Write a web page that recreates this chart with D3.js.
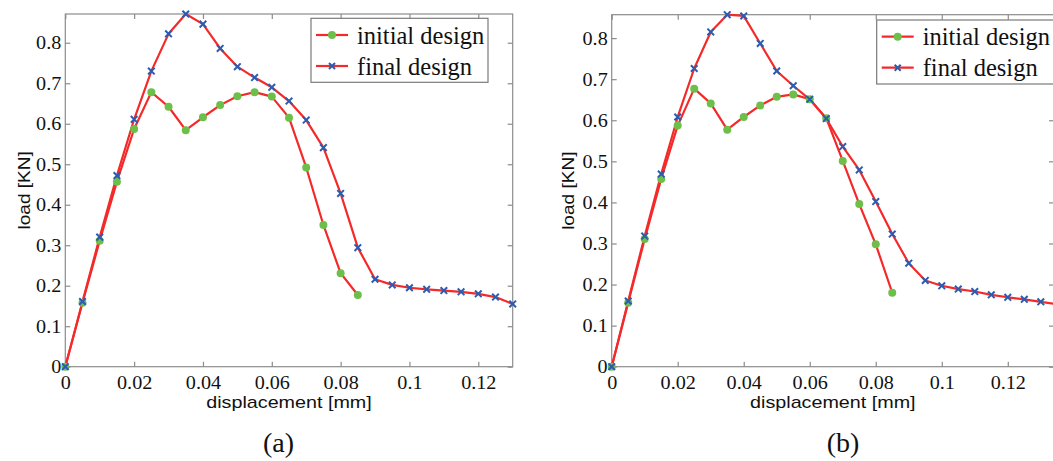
<!DOCTYPE html>
<html><head><meta charset="utf-8">
<script src="https://cdn.jsdelivr.net/npm/d3@7"></script>
<style>body{margin:0;background:#fff;}svg{display:block;}
.serif{font-family:"Liberation Serif","Times New Roman",serif;}
.sans{font-family:"Liberation Sans",Arial,sans-serif;}
</style>
</head><body>
<svg id="c" width="1053" height="461"></svg>
<script>
// ---------- data ----------
const dispInitial = [0,0.005,0.01,0.015,0.02,0.025,0.03,0.035,0.04,0.045,0.05,0.055,0.06,0.065,0.07,0.075,0.08,0.085];
const dispFinalA = [0,0.005,0.01,0.015,0.02,0.025,0.03,0.035,0.04,0.045,0.05,0.055,0.06,0.065,0.07,0.075,0.08,0.085,0.09,0.095,0.1,0.105,0.11,0.115,0.12,0.125,0.13];
const dispFinalB = [0,0.005,0.01,0.015,0.02,0.025,0.03,0.035,0.04,0.045,0.05,0.055,0.06,0.065,0.07,0.075,0.08,0.085,0.09,0.095,0.1,0.105,0.11,0.115,0.12,0.125,0.13,0.135];
const initialA = [0,0.158,0.311,0.457,0.587,0.678,0.642,0.584,0.616,0.646,0.668,0.678,0.667,0.615,0.492,0.350,0.231,0.177];
const finalA = [0,0.161,0.320,0.472,0.611,0.730,0.822,0.871,0.846,0.786,0.741,0.714,0.690,0.656,0.609,0.541,0.428,0.294,0.216,0.202,0.195,0.191,0.188,0.185,0.180,0.172,0.155];
const initialB = [0,0.156,0.311,0.457,0.587,0.677,0.641,0.577,0.608,0.636,0.657,0.663,0.651,0.605,0.501,0.396,0.298,0.180];
const finalB = [0,0.160,0.318,0.469,0.608,0.726,0.815,0.857,0.854,0.787,0.720,0.684,0.651,0.604,0.536,0.479,0.402,0.323,0.252,0.210,0.197,0.189,0.183,0.175,0.169,0.164,0.158,0.152];
const xTicks = [0,0.02,0.04,0.06,0.08,0.1,0.12];
const yTicks = [0,0.1,0.2,0.3,0.4,0.5,0.6,0.7,0.8];
const seriesNames = ["initial design","final design"];
const panelLabels = ["(a)","(b)"];
const xLabel = "displacement [mm]";
const yLabel = "load [KN]";

// ---------- style ----------
const RED = "#f42a2a", GREEN = "#6cc04a", BLUE = "#2b5cb0", FRAME = "#8c8c8c";
const svg = d3.select("#c");

function stretch(sel, f){
  sel.each(function(){ const w = this.getComputedTextLength(); d3.select(this).attr("textLength", w*f).attr("lengthAdjust","spacingAndGlyphs"); });
}

function panel(o){
  const x = d3.scaleLinear().domain([0, o.xMax]).range([o.x0, o.x1]);
  const y = d3.scaleLinear().domain([0, o.yMax]).range([o.y1, o.y0]);
  const g = svg.append("g");
  const cid = "clip" + o.id;
  g.append("clipPath").attr("id", cid).append("rect")
    .attr("x", o.x0 - 6).attr("y", o.y0 - 6).attr("width", o.x1 - o.x0 + 12).attr("height", o.y1 - o.y0 + 12);

  g.append("rect").attr("x", o.x0).attr("y", o.y0).attr("width", o.x1 - o.x0).attr("height", o.y1 - o.y0)
    .attr("fill", "none").attr("stroke", FRAME).attr("stroke-width", 1.2);

  const fmt = d => d === 0 ? "0" : String(+d.toFixed(2));
  const ax = g.append("g").attr("transform", `translate(0,${o.y1})`)
    .call(d3.axisBottom(x).tickValues(xTicks).tickSize(-5).tickPadding(10).tickFormat(fmt));
  const ay = g.append("g").attr("transform", `translate(${o.x0},0)`)
    .call(d3.axisLeft(y).tickValues(yTicks).tickSize(-5).tickPadding(4).tickFormat(fmt));
  const at = g.append("g").attr("transform", `translate(0,${o.y0})`)
    .call(d3.axisTop(x).tickValues(xTicks).tickSize(-5).tickFormat(""));
  const ar = g.append("g").attr("transform", `translate(${o.x1},0)`)
    .call(d3.axisRight(y).tickValues(yTicks).tickSize(-5).tickFormat(""));
  [ax, ay, at, ar].forEach(a => {
    a.attr("font-family", null).attr("font-size", null);
    a.select(".domain").remove();
    a.selectAll(".tick line").attr("stroke", FRAME).attr("stroke-width", 1.2);
    a.selectAll("text").attr("class", "serif").style("font-size", "18px").attr("fill", "#111");
  });
  ay.selectAll("text").attr("dy", "0.34em");
  stretch(ax.selectAll("text"), 1.12);
  stretch(ay.selectAll("text"), 1.12);

  const line = d3.line().x(d => x(d[0])).y(d => y(d[1]));
  const plot = g.append("g").attr("clip-path", `url(#${cid})`);
  const dI = o.xi.map((v, i) => [v, o.ini[i]]);
  const dF = o.xf.map((v, i) => [v, o.fin[i]]);
  [dI, dF].forEach(d => plot.append("path").datum(d).attr("d", line)
    .attr("fill", "none").attr("stroke", RED).attr("stroke-width", 2.2).attr("stroke-linejoin", "round"));
  plot.selectAll(".mi").data(dI).join("circle").attr("cx", d => x(d[0])).attr("cy", d => y(d[1]))
    .attr("r", 4).attr("fill", GREEN);
  const xs = 3.3;
  plot.selectAll(".mf").data(dF).join("path")
    .attr("d", d => { const cx = x(d[0]), cy = y(d[1]); return `M${cx-xs},${cy-xs}L${cx+xs},${cy+xs}M${cx-xs},${cy+xs}L${cx+xs},${cy-xs}`; })
    .attr("stroke", BLUE).attr("stroke-width", 2).attr("fill", "none");

  const xl = g.append("text").attr("class", "sans").attr("x", (o.x0 + o.x1) / 2).attr("y", 408).attr("text-anchor", "middle")
    .style("font-size", "17px").attr("fill", "#111").text(xLabel);
  stretch(xl, 1.16);
  const yl = g.append("text").attr("class", "sans").attr("transform", `translate(${o.yl},${(o.y0 + o.y1) / 2}) rotate(-90)`)
    .attr("text-anchor", "middle").style("font-size", "17px").attr("fill", "#111").text(yLabel);
  stretch(yl, 1.12);

  g.append("text").attr("class", "serif").attr("x", o.px).attr("y", 452).attr("text-anchor", "middle")
    .style("font-size", "28px").attr("fill", "#111").text(o.label);

  const L = o.lx, T = o.ly;
  g.append("rect").attr("x", L).attr("y", T).attr("width", o.lw).attr("height", 64)
    .attr("fill", "#fff").attr("stroke", "#7a7a7a").attr("stroke-width", 1.2);
  seriesNames.forEach((n, i) => {
    const cy = T + 16.7 + i * 31;
    g.append("line").attr("x1", L + 5).attr("x2", L + 37).attr("y1", cy).attr("y2", cy)
      .attr("stroke", RED).attr("stroke-width", 2.2);
    if (i === 0) g.append("circle").attr("cx", L + 21).attr("cy", cy).attr("r", 4).attr("fill", GREEN);
    else g.append("path").attr("d", `M${L+21-3},${cy-3}L${L+21+3},${cy+3}M${L+21-3},${cy+3}L${L+21+3},${cy-3}`)
      .attr("stroke", BLUE).attr("stroke-width", 2);
    g.append("text").attr("class", "serif").attr("x", L + 46).attr("y", cy + 8.5).style("font-size", "24.5px")
      .attr("fill", "#111").text(n);
  });
}

panel({id: "a", x0: 65.3, x1: 512.7, y0: 14, y1: 366.7, xMax: 0.13, yMax: 0.871,
  xi: dispInitial, ini: initialA, xf: dispFinalA, fin: finalA, yl: 29.5, px: 278.5, label: panelLabels[0],
  lx: 311, ly: 18.3, lw: 177});
panel({id: "b", x0: 611.7, x1: 1054, y0: 14.7, y1: 366.7, xMax: 0.134, yMax: 0.857,
  xi: dispInitial, ini: initialB, xf: dispFinalB, fin: finalB, yl: 574, px: 843, label: panelLabels[1],
  lx: 876.7, ly: 20, lw: 180});
</script>
</body></html>
